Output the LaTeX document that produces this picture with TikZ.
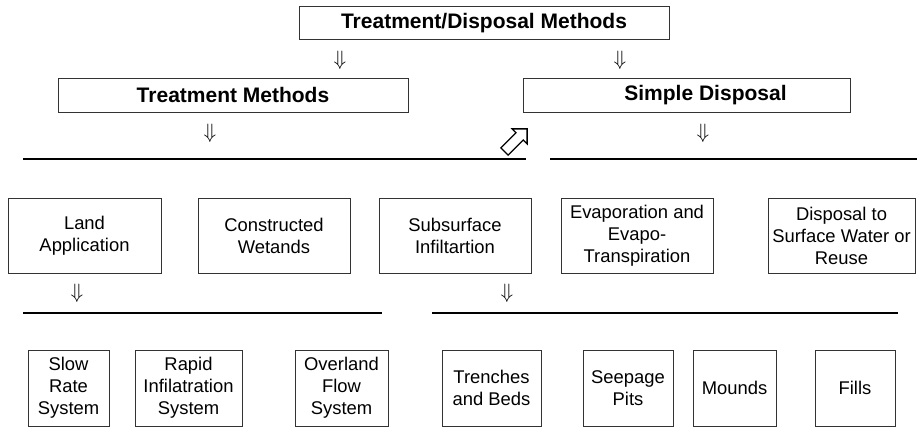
\documentclass[tikz,border=0pt]{standalone}
\usepackage{amsmath,amssymb}
\usepackage{fontspec}
\setmainfont{Liberation Sans}
\usepackage{tikz}
\usetikzlibrary{shapes.arrows}

\begin{document}
\begin{tikzpicture}[x=1pt,y=-1pt,
    mbox/.style={draw=black!80,line width=1pt,inner sep=0pt,align=center,
      font=\fontsize{18.4}{22}\selectfont},
    hbox/.style={mbox,font=\fontsize{21}{25}\bfseries},
    dn/.style={inner sep=0pt,font=\fontsize{21}{24}\selectfont}]
    \useasboundingbox (0,0) rectangle (917,428);
    % top level
    \node[hbox,minimum width=370,minimum height=33] (all) at (484,23.5) {Treatment/Disposal Methods};
    \node[dn] (a1) at (340,60) {$\Downarrow$};
    \node[dn] (a2) at (620,60) {$\Downarrow$};
    \node[hbox,minimum width=350,minimum height=34] (treat) at (233,95) {Treatment Methods};
    \node[hbox,minimum width=327,minimum height=34] (simple) at (686.5,95) {\hspace*{38pt}Simple Disposal};
    \node[dn] (a3) at (210,133) {$\Downarrow$};
    \node[dn] (a4) at (703,133) {$\Downarrow$};
    \node[single arrow,draw,line width=1.3pt,rotate=45,minimum height=32,
      single arrow head extend=5.5pt,inner sep=4.5pt] (cross) at (514,142) {};
    \coordinate (l1) at (23,159);
    \coordinate (r1) at (526,159);
    \coordinate (l2) at (550,159);
    \coordinate (r2) at (917,159);
    \draw[line width=1.3pt] (l1) -- (r1);
    \draw[line width=1.3pt] (l2) -- (r2);
    % middle row
    \node[mbox,minimum width=153,minimum height=75] (land) at (84.5,235.5) {Land\\Application};
    \node[mbox,minimum width=152,minimum height=75] (wet) at (274,235.5) {Constructed\\Wetands};
    \node[mbox,minimum width=152,minimum height=75] (sub) at (455,235.5) {Subsurface\\Infiltartion};
    \node[mbox,minimum width=152,minimum height=75] (evap) at (637,235.5) {Evaporation and\\Evapo-\\Transpiration};
    \node[mbox,minimum width=147,minimum height=75] (disp) at (841.5,235.5) {Disposal to\\Surface Water or\\Reuse};
    \node[dn] (a5) at (77,293) {$\Downarrow$};
    \node[dn] (a6) at (507,293) {$\Downarrow$};
    \coordinate (l3) at (23,313);
    \coordinate (r3) at (382,313);
    \coordinate (l4) at (432,313);
    \coordinate (r4) at (898,313);
    \draw[line width=1.3pt] (l3) -- (r3);
    \draw[line width=1.3pt] (l4) -- (r4);
    % bottom row
    \node[mbox,minimum width=81,minimum height=76] (slow) at (68.5,388) {Slow\\Rate\\System};
    \node[mbox,minimum width=107,minimum height=76] (rapid) at (188.5,388) {Rapid\\Infilatration\\System};
    \node[mbox,minimum width=93,minimum height=76] (over) at (341.5,388) {Overland\\Flow\\System};
    \node[mbox,minimum width=99,minimum height=76] (trench) at (491.5,388) {Trenches\\and Beds};
    \node[mbox,minimum width=90,minimum height=76] (seep) at (628,388) {Seepage\\Pits};
    \node[mbox,minimum width=83,minimum height=76] (mound) at (734.5,388) {Mounds};
    \node[mbox,minimum width=80,minimum height=76] (fills) at (855,388) {Fills};
\end{tikzpicture}
\end{document}
